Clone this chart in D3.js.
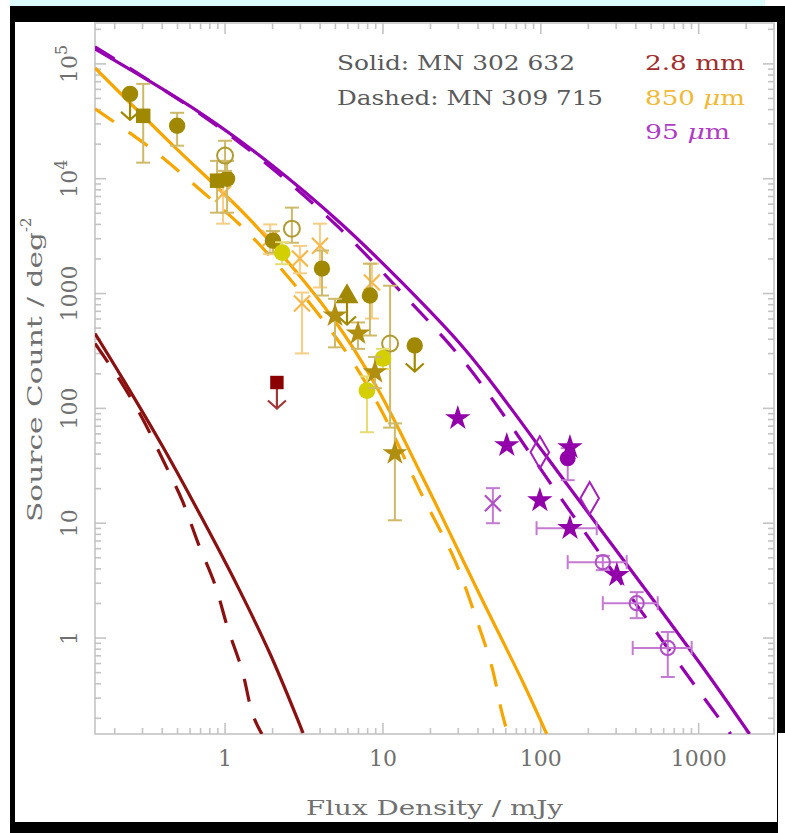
<!DOCTYPE html>
<html>
<head>
<meta charset="utf-8">
<script src="https://cdn.jsdelivr.net/npm/d3@7/dist/d3.min.js"></script>
<style>
  body { margin: 0; background: #fff; }
  text { font-family: "DejaVu Serif", serif; }
</style>
</head>
<body>
<div id="chart"></div>
<script>
// ---- model curves (flux in mJy, counts per deg^2) ----
const mm28SolidFlux   = [0.150, 0.226, 0.405, 0.726, 1.19, 1.93, 3.12];
const mm28SolidCount  = [449, 179, 45.8, 10.6, 2.89, 0.726, 0.149];
const mm28DashedFlux  = [0.150, 0.216, 0.299, 0.405, 0.535, 0.675, 0.865, 1.04, 1.28, 1.50, 1.71];
const mm28DashedCount = [367, 175, 82, 35.3, 15.8, 6.70, 2.89, 1.22, 0.527, 0.214, 0.146];

const um850SolidFlux   = [0.150, 0.449, 1.50, 4.83, 9.16, 17.7, 22.9, 41.1, 76.9, 109];
const um850SolidCount  = [9.23e4, 2.06e4, 4.14e3, 606, 152, 25.6, 12.5, 2.37, 0.414, 0.146];
const um850DashedFlux  = [0.150, 0.335, 0.695, 1.50, 4.83, 9.16, 17.7, 28.5, 39.9, 49.0, 56.6, 61.8];
const um850DashedCount = [4.06e4, 1.86e4, 8.02e3, 3.07e3, 449, 113, 17.5, 4.77, 1.35, 0.560, 0.227, 0.146];

const um95SolidFlux   = [0.150, 0.695, 1.93, 5.35, 12.8, 30.7, 47.6, 106, 236, 527, 1175, 2100];
const um95SolidCount  = [1.35e5, 3.75e4, 1.35e4, 4.14e3, 1.30e3, 367, 175, 39.8, 9.05, 2.06, 0.458, 0.146];
const um95DashedFlux  = [0.150, 0.695, 1.93, 5.35, 12.8, 30.7, 52.7, 114, 236, 490, 1014, 1595];
const um95DashedCount = [1.41e5, 3.67e4, 1.27e4, 3.67e3, 1.06e3, 283, 106, 22.7, 5.48, 1.35, 0.339, 0.146];

// ---- 850 um measurements ----
const olCircFlux  = [0.497, 1.03, 2.01, 4.11, 8.27];
const olCircCount = [2.89e4, 1.0e4, 2.89e3, 1.65e3, 961];
const olCircLow   = [1.94e4, 5.06e3, 2.27e3, 961, 431];
const olCircHigh  = [3.75e4, 1.43e4, 3.5e3, 2.37e3, 1.82e3];

const olLimFlux  = [0.250, 15.9];
const olLimCount = [5.48e4, 353];

const olSqFlux  = [0.303, 0.890];
const olSqCount = [3.53e4, 9.61e3];
const olSqLow   = [1.38e4, 5.06e3];
const olSqHigh  = [6.70e4, 1.43e4];

const olOpenFlux  = [1.0, 2.65, 11.1];
const olOpenCount = [1.59e4, 3.67e3, 367];
const olOpenLow   = [1.17e4, 2.77e3, 68];
const olOpenHigh  = [2.14e4, 5.6e3, 1.17e3];

const crossFlux  = [0.971, 1.93, 2.98, 3.99, 3.07, 8.52];
const crossCount = [7.41e3, 3.01e3, 2.02e3, 2.61e3, 819, 1.25e3];
const crossLow   = [4.06e3, 2.2e3, 1.5e3, 1.13e3, 301, 606];
const crossHigh  = [1.10e4, 4.0e3, 2.6e3, 4.06e3, 1.02e3, 1.82e3];

const olStarFlux  = [4.97, 6.95, 8.90, 11.9];
const olStarCount = [644, 449, 206, 40.6];
const olStarLow   = [340, 330, 150, 10.6];
const olStarHigh  = [900, 560, 280, 74];

const olTriFlux  = [5.92];
const olTriCount = [905];

const yelFlux  = [2.30, 7.92, 10.0];
const yelCount = [2.27e3, 143, 272];
const yelLow   = [1.8e3, 62, 220];
const yelHigh  = [2.8e3, 190, 330];

// ---- 2.8 mm limit ----
const mmLimFlux  = [2.13];
const mmLimCount = [168];

// ---- 95 um measurements ----
const pStarFlux  = [29.8, 60.9, 153, 98.6, 153, 303];
const pStarCount = [82, 47.7, 45.8, 15.8, 9.05, 3.53];
const pStarXLow  = [null, null, null, null, 94, null];
const pStarXHigh = [null, null, null, null, 226, null];

const pDiaFlux  = [98.6, 204];
const pDiaCount = [41.4, 16.5];

const pDotFlux  = [148];
const pDotCount = [36.7];
const pDotLow   = [23.7];
const pDotHigh  = [45];

const pAstFlux  = [49.7];
const pAstCount = [14.9];
const pAstLow   = [10.0];
const pAstHigh  = [20.2];

const pRingFlux  = [247, 405, 637];
const pRingCount = [4.58, 2.01, 0.819];
const pRingLow   = [3.9, 1.49, 0.458];
const pRingHigh  = [5.2, 2.51, 1.13];
const pRingXLow  = [148, 247, 382];
const pRingXHigh = [350, 550, 903];

// ---- axis labels ----
const xTickValues = [1, 10, 100, 1000];
const xTickLabels = ["1", "10", "100", "1000"];
const yTickValues = [1, 10, 100, 1000, 1e4, 1e5];
const yTickLabels = [["1", ""], ["10", ""], ["100", ""], ["1000", ""], ["10", "4"], ["10", "5"]];

const width = 785, height = 833;
const plot = { left: 95, right: 774, top: 23, bottom: 734 };

const svg = d3.select("#chart").append("svg")
    .attr("width", width)
    .attr("height", height);

// frame of the screenshot
svg.append("rect").attr("width", width).attr("height", height).attr("fill", "#fff");
svg.append("rect").attr("x", 10).attr("y", 0).attr("width", 755).attr("height", 6).attr("fill", "#dcfcfc");
svg.append("rect").attr("x", 10).attr("y", 6).attr("width", 775).attr("height", 827).attr("fill", "#000");
svg.append("rect").attr("x", 15).attr("y", 22).attr("width", 762).attr("height", 800).attr("fill", "#fff");
svg.append("rect").attr("x", 778).attr("y", 733).attr("width", 7).attr("height", 100).attr("fill", "#fff");

const x = d3.scaleLog().domain([0.15, 3000]).range([plot.left, plot.right]);
const y = d3.scaleLog().domain([0.146, 2.27e5]).range([plot.bottom, plot.top]);

const axisColor = "#c4c4c4";
const isDecade = v => Math.abs(Math.log10(v) - Math.round(Math.log10(v))) < 1e-6;

// ticks on all four sides, pointing inward
const axes = svg.append("g");
x.ticks().forEach(v => {
    const len = isDecade(v) ? 11 : 6;
    const px = x(v);
    axes.append("line").attr("x1", px).attr("x2", px).attr("y1", plot.bottom).attr("y2", plot.bottom - len);
    axes.append("line").attr("x1", px).attr("x2", px).attr("y1", plot.top).attr("y2", plot.top + len);
});
y.ticks().forEach(v => {
    const len = isDecade(v) ? 11 : 6;
    const py = y(v);
    axes.append("line").attr("x1", plot.left).attr("x2", plot.left + len).attr("y1", py).attr("y2", py);
    axes.append("line").attr("x1", plot.right).attr("x2", plot.right - len).attr("y1", py).attr("y2", py);
});
axes.append("rect")
    .attr("x", plot.left).attr("y", plot.top)
    .attr("width", plot.right - plot.left).attr("height", plot.bottom - plot.top)
    .attr("fill", "none");
axes.selectAll("line, rect").attr("stroke", axisColor).attr("stroke-width", 1.6);

// tick labels
const labelColor = "#707070";
svg.append("g").selectAll("text")
    .data(xTickValues)
    .enter()
    .append("text")
    .attr("x", d => x(d))
    .attr("y", 766)
    .attr("text-anchor", "middle")
    .attr("font-size", 22)
    .attr("fill", labelColor)
    .text((d, i) => xTickLabels[i]);

const yLab = svg.append("g").selectAll("g")
    .data(yTickValues)
    .enter()
    .append("g")
    .attr("transform", d => `translate(77,${y(d)}) rotate(-90)`);
yLab.append("text")
    .attr("text-anchor", "middle")
    .attr("font-size", 22)
    .attr("fill", labelColor)
    .each(function (d, i) {
        const t = d3.select(this);
        const [base, sup] = yTickLabels[i];
        t.append("tspan").text(base);
        if (sup) t.append("tspan").attr("dy", -10).attr("font-size", 16).text(sup);
    });

// axis titles (glyphs stretched to the wide plotter font)
svg.append("text")
    .attr("x", 306)
    .attr("y", 815)
    .attr("font-size", 20)
    .attr("fill", labelColor)
    .attr("textLength", 257)
    .attr("lengthAdjust", "spacingAndGlyphs")
    .text("Flux Density / mJy");

const yTitle = svg.append("text")
    .attr("transform", "translate(42,522) rotate(-90)")
    .attr("font-size", 20)
    .attr("fill", labelColor);
yTitle.append("tspan").attr("textLength", 290).attr("lengthAdjust", "spacingAndGlyphs").text("Source Count / deg");
yTitle.append("tspan").attr("dy", -11).attr("font-size", 15).text("-2");

// legend text
const legend = svg.append("g").attr("font-size", 20);
legend.append("text").attr("x", 337).attr("y", 70).attr("fill", "#5a5a5a")
    .attr("textLength", 238).attr("lengthAdjust", "spacingAndGlyphs").text("Solid: MN 302 632");
legend.append("text").attr("x", 337).attr("y", 105).attr("fill", "#5a5a5a")
    .attr("textLength", 266).attr("lengthAdjust", "spacingAndGlyphs").text("Dashed: MN 309 715");
legend.append("text").attr("x", 645).attr("y", 70).attr("fill", "#a02c2c")
    .attr("textLength", 100).attr("lengthAdjust", "spacingAndGlyphs").text("2.8 mm");
const l850 = legend.append("text").attr("x", 645).attr("y", 105).attr("fill", "#f2b935")
    .attr("textLength", 100).attr("lengthAdjust", "spacingAndGlyphs");
l850.append("tspan").text("850 ");
l850.append("tspan").attr("font-style", "italic").text("μ");
l850.append("tspan").text("m");
const l95 = legend.append("text").attr("x", 645).attr("y", 139).attr("fill", "#b03cc6")
    .attr("textLength", 85).attr("lengthAdjust", "spacingAndGlyphs");
l95.append("tspan").text("95 ");
l95.append("tspan").attr("font-style", "italic").text("μ");
l95.append("tspan").text("m");

// clip for curves
svg.append("clipPath").attr("id", "plot-clip")
    .append("rect")
    .attr("x", plot.left).attr("y", plot.top)
    .attr("width", plot.right - plot.left).attr("height", plot.bottom - plot.top);

const line = d3.line()
    .x(d => x(d[0]))
    .y(d => y(d[1]))
    .curve(d3.curveCatmullRom.alpha(0.5));

const curves = [
    { flux: mm28SolidFlux, count: mm28SolidCount, color: "#8b1010", dash: null },
    { flux: mm28DashedFlux, count: mm28DashedCount, color: "#8b1010", dash: "23,18" },
    { flux: um850SolidFlux, count: um850SolidCount, color: "#f7a600", dash: null },
    { flux: um850DashedFlux, count: um850DashedCount, color: "#f7a600", dash: "23,18" },
    { flux: um95SolidFlux, count: um95SolidCount, color: "#9500b0", dash: null },
    { flux: um95DashedFlux, count: um95DashedCount, color: "#9500b0", dash: "23,18" }
];

const curveG = svg.append("g").attr("clip-path", "url(#plot-clip)");
curves.forEach(c => {
    curveG.append("path")
        .datum(c.flux.map((f, i) => [f, c.count[i]]))
        .attr("d", line)
        .attr("fill", "none")
        .attr("stroke", c.color)
        .attr("stroke-width", 3.2)
        .attr("stroke-dasharray", c.dash);
});

// ---- markers ----
const marks = svg.append("g");

function vErr(px, lo, hi, color) {
    marks.append("line").attr("x1", px).attr("x2", px).attr("y1", y(lo)).attr("y2", y(hi))
        .attr("stroke", color).attr("stroke-width", 2);
    [lo, hi].forEach(v => marks.append("line")
        .attr("x1", px - 7).attr("x2", px + 7).attr("y1", y(v)).attr("y2", y(v))
        .attr("stroke", color).attr("stroke-width", 2));
}

function hErr(py, lo, hi, color) {
    marks.append("line").attr("x1", x(lo)).attr("x2", x(hi)).attr("y1", py).attr("y2", py)
        .attr("stroke", color).attr("stroke-width", 2);
    [lo, hi].forEach(v => marks.append("line")
        .attr("x1", x(v)).attr("x2", x(v)).attr("y1", py - 7).attr("y2", py + 7)
        .attr("stroke", color).attr("stroke-width", 2));
}

function arrowDown(px, py, color) {
    marks.append("path")
        .attr("d", `M${px},${py}V${py + 26}M${px - 9},${py + 18}L${px},${py + 26}L${px + 9},${py + 18}`)
        .attr("fill", "none").attr("stroke", color).attr("stroke-width", 2.2);
}

function symbol(type, size, px, py, fill, stroke) {
    marks.append("path")
        .attr("d", d3.symbol().type(type).size(size)())
        .attr("transform", `translate(${px},${py})`)
        .attr("fill", fill)
        .attr("stroke", stroke || "none")
        .attr("stroke-width", 2);
}

function crossMark(px, py, color, r) {
    marks.append("path")
        .attr("d", `M${px - r},${py - r}L${px + r},${py + r}M${px - r},${py + r}L${px + r},${py - r}`)
        .attr("stroke", color).attr("stroke-width", 2.2);
}

const olive = "#a08800", oliveErr = "#cdb968";
const lightOrange = "#f7b84a", lightOrangeErr = "#f8cd85";
const yellow = "#d3cf00";
const purple = "#9200aa", purpleErr = "#c47ad2";
const maroon = "#8b0000";

// light orange crosses
crossFlux.forEach((f, i) => {
    vErr(x(f), crossLow[i], crossHigh[i], lightOrangeErr);
    crossMark(x(f), y(crossCount[i]), lightOrange, 8);
});
// olive error-barred symbols
olSqFlux.forEach((f, i) => {
    vErr(x(f), olSqLow[i], olSqHigh[i], oliveErr);
    symbol(d3.symbolSquare, 210, x(f), y(olSqCount[i]), olive);
});
olCircFlux.forEach((f, i) => {
    vErr(x(f), olCircLow[i], olCircHigh[i], oliveErr);
    symbol(d3.symbolCircle, 210, x(f), y(olCircCount[i]), olive);
});
olLimFlux.forEach((f, i) => {
    arrowDown(x(f), y(olLimCount[i]), olive);
    symbol(d3.symbolCircle, 210, x(f), y(olLimCount[i]), olive);
});
olOpenFlux.forEach((f, i) => {
    vErr(x(f), olOpenLow[i], olOpenHigh[i], oliveErr);
    symbol(d3.symbolCircle, 200, x(f), y(olOpenCount[i]), "none", "#b09a30");
});
olTriFlux.forEach((f, i) => {
    arrowDown(x(f), y(olTriCount[i]), olive);
    symbol(d3.symbolTriangle, 230, x(f), y(olTriCount[i]) - 2, olive);
});
yelFlux.forEach((f, i) => {
    vErr(x(f), yelLow[i], yelHigh[i], "#e6dc70");
    symbol(d3.symbolCircle, 220, x(f), y(yelCount[i]), yellow);
});
olStarFlux.forEach((f, i) => {
    vErr(x(f), olStarLow[i], olStarHigh[i], oliveErr);
    symbol(d3.symbolStar, 190, x(f), y(olStarCount[i]), "#b08e10");
});

// 2.8 mm upper limit
mmLimFlux.forEach((f, i) => {
    arrowDown(x(f), y(mmLimCount[i]), "#a03838");
    symbol(d3.symbolSquare, 180, x(f), y(mmLimCount[i]), maroon);
});

// 95 um
pRingFlux.forEach((f, i) => {
    vErr(x(f), pRingLow[i], pRingHigh[i], purpleErr);
    hErr(y(pRingCount[i]), pRingXLow[i], pRingXHigh[i], purpleErr);
    symbol(d3.symbolCircle, 160, x(f), y(pRingCount[i]), "none", "#b050c4");
});
pAstFlux.forEach((f, i) => {
    vErr(x(f), pAstLow[i], pAstHigh[i], purpleErr);
    crossMark(x(f), y(pAstCount[i]), "#b050c4", 8);
});
pDotFlux.forEach((f, i) => {
    vErr(x(f), pDotLow[i], pDotHigh[i], purpleErr);
    symbol(d3.symbolCircle, 200, x(f), y(pDotCount[i]), purple);
});
pDiaFlux.forEach((f, i) => {
    symbol(d3.symbolDiamond, 300, x(f), y(pDiaCount[i]), "none", "#a420ba");
});
pStarFlux.forEach((f, i) => {
    if (pStarXLow[i]) hErr(y(pStarCount[i]), pStarXLow[i], pStarXHigh[i], purpleErr);
    symbol(d3.symbolStar, 200, x(f), y(pStarCount[i]), purple);
});
</script>
</body>
</html>
